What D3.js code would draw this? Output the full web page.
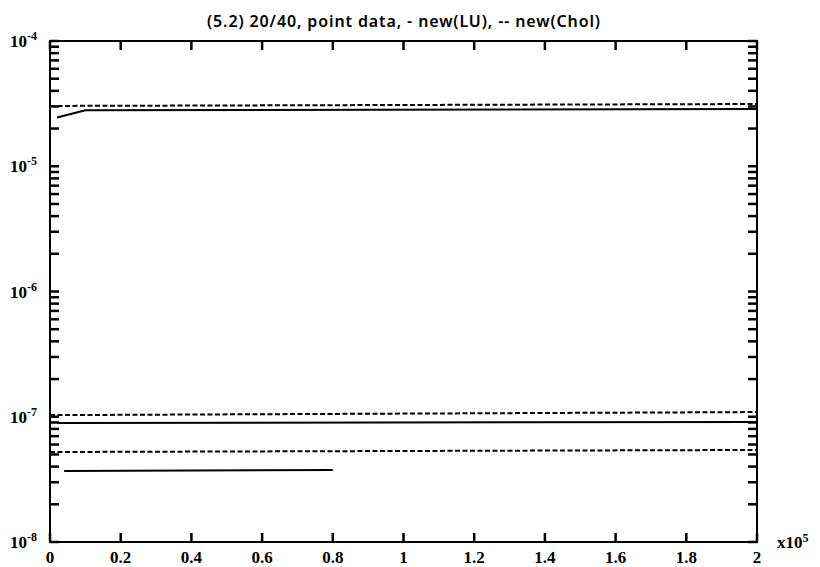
<!DOCTYPE html>
<meta charset="utf-8">
<style>
  body { margin: 0; background: #fff; }
  .frame { fill: none; stroke: #000; stroke-width: 2px; }
  .tk { stroke: #000; stroke-width: 2.5px; }
  .line { fill: none; stroke: #000; stroke-width: 2px; }
  .dash { stroke-dasharray: 5,2.5; }
  .lbl { font-family: "Liberation Serif", serif; font-weight: bold; font-size: 17px; fill: #000; }
  .title { font-family: "Noto Sans", sans-serif; font-weight: 600; font-size: 16px; fill: #000; }
</style>
<body>
<script src="https://cdn.jsdelivr.net/npm/d3@7"></script>
<script>

var title = "(5.2) 20/40, point data, - new(LU), -- new(Chol)";

// x in units of 1e5
var xTicks = [0, 0.2, 0.4, 0.6, 0.8, 1, 1.2, 1.4, 1.6, 1.8, 2];
var xTickLabels = ["0", "0.2", "0.4", "0.6", "0.8", "1", "1.2", "1.4", "1.6", "1.8", "2"];
var yDecades = [1e-8, 1e-7, 1e-6, 1e-5, 1e-4];
var yDecadeExp = ["-8", "-7", "-6", "-5", "-4"];

// solid lines = new(LU), dashed = new(Chol)
var luTopX = [0.02, 0.1, 2];
var luTopY = [2.45e-5, 2.8e-5, 2.86e-5];
var cholTopX = [0, 2];
var cholTopY = [3.03e-5, 3.14e-5];
var cholMidX = [0, 2];
var cholMidY = [1.03e-7, 1.09e-7];
var luMidX = [0.02, 2];
var luMidY = [8.9e-8, 9.1e-8];
var cholLowX = [0, 2];
var cholLowY = [5.23e-8, 5.43e-8];
var luLowX = [0.04, 0.8];
var luLowY = [3.69e-8, 3.75e-8];

var margin = {top: 41, right: 63, bottom: 25, left: 50},
    width = 820 - margin.left - margin.right,
    height = 567 - margin.top - margin.bottom;

var x = d3.scaleLinear().domain([0, 2]).range([0, width]);
var y = d3.scaleLog().domain([1e-8, 1e-4]).range([height, 0]);

var svg = d3.select("body").append("svg")
    .attr("width", 820)
    .attr("height", 567)
  .append("g")
    .attr("transform", "translate(" + margin.left + "," + margin.top + ")");

// log ticks 1..9 in each decade
var yTicks = [];
yDecades.forEach(function(d, i) {
  if (i == yDecades.length - 1) { yTicks.push(d); return; }
  for (var k = 1; k < 10; k++) yTicks.push(d * k);
});

var tl = 9;
// ticks on all four sides, pointing inward
svg.selectAll(".xtb").data(xTicks).enter().append("line")
    .attr("class", "tk")
    .attr("x1", function(d) { return x(d); }).attr("x2", function(d) { return x(d); })
    .attr("y1", height).attr("y2", height - tl);
svg.selectAll(".xtt").data(xTicks).enter().append("line")
    .attr("class", "tk")
    .attr("x1", function(d) { return x(d); }).attr("x2", function(d) { return x(d); })
    .attr("y1", 0).attr("y2", tl);
svg.selectAll(".ytl").data(yTicks).enter().append("line")
    .attr("class", "tk")
    .attr("y1", function(d) { return y(d); }).attr("y2", function(d) { return y(d); })
    .attr("x1", 0).attr("x2", tl);
svg.selectAll(".ytr").data(yTicks).enter().append("line")
    .attr("class", "tk")
    .attr("y1", function(d) { return y(d); }).attr("y2", function(d) { return y(d); })
    .attr("x1", width).attr("x2", width - tl);

svg.append("rect").attr("class", "frame")
    .attr("x", 0).attr("y", 0)
    .attr("width", width).attr("height", height);

// x tick labels
svg.selectAll(".xl").data(xTicks).enter().append("text")
    .attr("class", "lbl")
    .attr("x", function(d) { return x(d); })
    .attr("y", height + 21)
    .attr("text-anchor", "middle")
    .text(function(d, i) { return xTickLabels[i]; });

var xe = svg.append("text").attr("class", "lbl")
    .attr("x", width + 20).attr("y", height + 6);
xe.append("tspan").text("x10");
xe.append("tspan").attr("dy", -6).style("font-size", "12px").text("5");

// y decade labels
yDecades.forEach(function(d, i) {
  var t = svg.append("text").attr("class", "lbl")
      .attr("x", -40).attr("y", y(d) + 6);
  t.append("tspan").text("10");
  t.append("tspan").attr("dy", -7).style("font-size", "12px").text(yDecadeExp[i]);
});

svg.append("text").attr("class", "title")
    .attr("x", width / 2).attr("y", -14)
    .attr("text-anchor", "middle")
    .attr("textLength", 393)
    .attr("lengthAdjust", "spacing")
    .text(title);

var line = d3.line()
    .x(function(d) { return x(d[0]); })
    .y(function(d) { return y(d[1]); });

function series(xs, ys, dashed) {
  svg.append("path")
      .datum(d3.zip(xs, ys))
      .attr("class", dashed ? "line dash" : "line")
      .attr("d", line);
}

series(cholTopX, cholTopY, true);
series(luTopX, luTopY, false);
series(cholMidX, cholMidY, true);
series(luMidX, luMidY, false);
series(cholLowX, cholLowY, true);
series(luLowX, luLowY, false);

</script>
</body>
